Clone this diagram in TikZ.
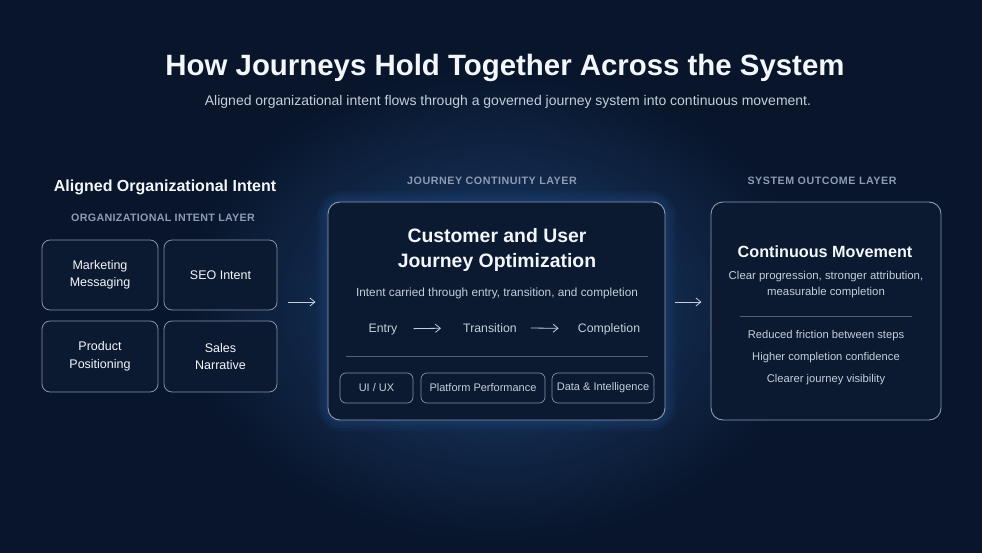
\documentclass[tikz,border=0pt]{standalone}
\usepackage{fontspec}
\setmainfont{Liberation Sans}
\usepackage{tikz}
\usetikzlibrary{arrows.meta,positioning}

\definecolor{bgcol}{HTML}{08152A}
\definecolor{glowcol}{HTML}{1C3F70}
\definecolor{boxcol}{HTML}{0B1A31}
\definecolor{edgecol}{HTML}{8291A8}
\definecolor{headcol}{HTML}{F3F6FA}
\definecolor{bodycol}{HTML}{C5CEDA}
\definecolor{capcol}{HTML}{8E9CB2}

\newcommand{\fs}[2][1.3]{\fontsize{#2}{#1\dimexpr#2pt\relax}\selectfont}

\tikzset{
  tile/.style={draw=edgecol,line width=0.8pt,fill=boxcol,rounded corners=8pt,
    align=center,text=headcol,font={\fs[1.4]{12.5}}},
  pill/.style={draw=edgecol,line width=0.7pt,rounded corners=6pt,minimum height=30pt,
    text=bodycol,font=\fs{11},inner sep=0pt},
  panel/.style={draw=edgecol!90!white,line width=0.9pt,fill=boxcol,rounded corners=12pt},
  caplbl/.style={text=capcol,font=\bfseries\addfontfeatures{LetterSpace=5}\fs{10.7}},
  body/.style={text=bodycol,font=\fs{11.2},align=center,inner sep=0pt},
  flow/.style={-{Straight Barb[length=5pt,width=8pt]},draw=bodycol,line width=0.8pt},
  rule/.style={draw=edgecol!60!boxcol,line width=0.7pt}
}

\begin{document}
\begin{tikzpicture}[x=1pt,y=-1pt]
% background and glow
\fill[bgcol] (0,0) rectangle (982,553);
\useasboundingbox (0,0) rectangle (982,553);
\shade[inner color=glowcol,outer color=bgcol] (497,305) ellipse (320 and 240);

% title
\node[text=headcol,font=\bfseries\fs{29.4}] (title) at (505,68) {How Journeys Hold Together Across the System};
\node[text=bodycol,font=\fs{14}] (sub) at (508,102) {Aligned organizational intent flows through a governed journey system into continuous movement.};

% left column
\node[text=headcol,font=\bfseries\fs{16}] (lhead) at (165,187) {Aligned Organizational Intent};
\node[caplbl,font=\bfseries\addfontfeatures{LetterSpace=3}\fs{10.7}] (llayer) at (163,218) {ORGANIZATIONAL INTENT LAYER};
\node[tile,minimum width=116pt,minimum height=70pt] (mkt) at (100,275) {Marketing\\Messaging};
\node[tile,minimum width=113pt,minimum height=70pt] (seo) at (220.5,275) {SEO Intent};
\node[tile,minimum width=116pt,minimum height=71pt] (prod) at (100,356.5) {Product\\Positioning};
\node[tile,minimum width=113pt,minimum height=71pt] (sales) at (220.5,356.5) {Sales\\Narrative};

% centre column
\foreach \w in {22,16,11,7,4}
  \draw[glowcol,line width=\w pt,opacity=0.18,rounded corners=14pt] (328,202) rectangle (665,420);
\node[caplbl] (clayer) at (492,181) {JOURNEY CONTINUITY LAYER};
\node[panel,minimum width=337pt,minimum height=218pt] (core) at (496.5,311) {};
\node[text=headcol,font={\bfseries\fs[1.3]{19.4}},align=center] (chead) at (497,250) {Customer and User\\Journey Optimization};
\node[body,font=\fs{11.8}] (cdesc) at (497,293) {Intent carried through entry, transition, and completion};
\node[body,font=\fs{12.3},anchor=base] (entry) at (383,332) {Entry};
\node[body,font=\fs{12.3},anchor=base] (trans) at (490,332) {Transition};
\node[body,font=\fs{12.3},anchor=base] (done) at (609,332) {Completion};
\draw[flow,shorten <=16pt,shorten >=22pt] (entry) -- (trans);
\draw[flow,shorten <=14pt,shorten >=19pt] (trans) -- (done);
\draw[rule] (346,356) -- (648,356);
\node[pill,minimum width=73pt] (ui) at (376.5,388) {UI / UX};
\node[pill,minimum width=124pt] (perf) at (483,388) {Platform Performance};
\node[pill,minimum width=102pt] (data) at (603,388) {Data \& Intelligence};

% right column
\node[caplbl] (rlayer) at (822,181) {SYSTEM OUTCOME LAYER};
\node[panel,minimum width=230pt,minimum height=218pt] (outc) at (826,311) {};
\node[text=headcol,font=\bfseries\fs{16.2}] (rhead) at (825,252) {Continuous Movement};
\node[body,align=center,font={\fs[1.4]{11.4}}] (rdesc) at (826,284.5) {Clear progression, stronger attribution,\\measurable completion};
\draw[rule] (740,316) -- (912,316);
\node[body] (b1) at (826,336) {Reduced friction between steps};
\node[body] (b2) at (826,358) {Higher completion confidence};
\node[body] (b3) at (826,380) {Clearer journey visibility};

% connectors between layers
\coordinate (lvl) at (0,302);
\draw[flow,shorten <=11pt,shorten >=12pt] (seo.east |- lvl) -- (core.west |- lvl);
\draw[flow,shorten <=10pt,shorten >=9pt] (core.east |- lvl) -- (outc.west |- lvl);
\end{tikzpicture}
\end{document}
